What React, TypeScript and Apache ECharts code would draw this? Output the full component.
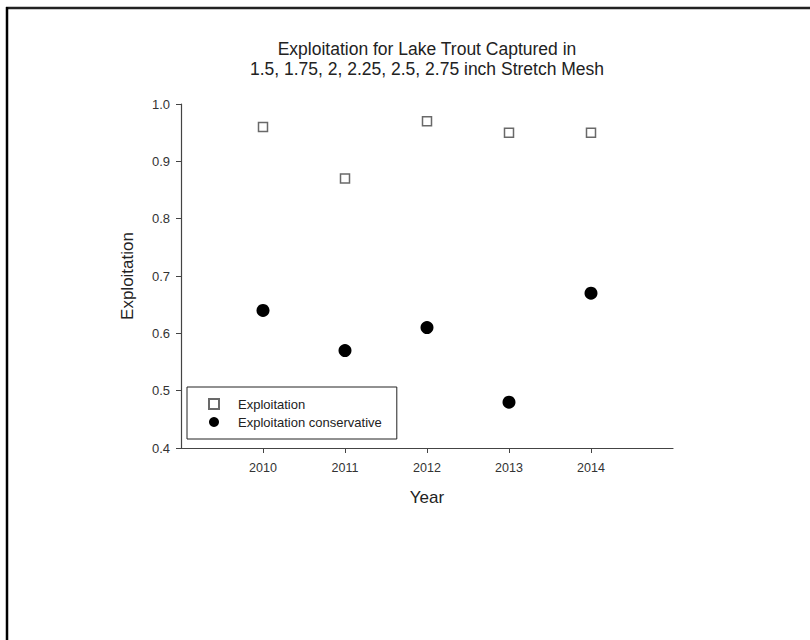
import React, { useEffect, useRef } from "react";
import * as echarts from "echarts";

const years = [2010, 2011, 2012, 2013, 2014];
const exploitation = [0.96, 0.87, 0.97, 0.95, 0.95];
const exploitationConservative = [0.64, 0.57, 0.61, 0.48, 0.67];
const yTicks = [0.4, 0.5, 0.6, 0.7, 0.8, 0.9, 1.0];
const titleLines = [
  "Exploitation for Lake Trout Captured in",
  "1.5, 1.75, 2, 2.25, 2.5, 2.75 inch Stretch Mesh",
];
const seriesNames = ["Exploitation", "Exploitation conservative"];

export default function App() {
  const ref = useRef<HTMLDivElement>(null);
  useEffect(() => {
    if (!ref.current) return;
    const chart = echarts.init(ref.current, null, { renderer: "svg" });
    const font = "'Liberation Sans', Arial, sans-serif";
    chart.setOption({
      animation: false,
      backgroundColor: "#fff",
      textStyle: { fontFamily: font },
      title: {
        text: titleLines.join("\n"),
        left: 427,
        top: 39,
        textAlign: "center",
        padding: 0,
        textStyle: {
          fontFamily: font,
          fontSize: 17.5,
          fontWeight: "normal",
          color: "#222",
          lineHeight: 20,
        },
      },
      grid: { left: 181, top: 104, width: 492, height: 344, containLabel: false },
      xAxis: {
        type: "value",
        min: 2009,
        max: 2015,
        interval: 1,
        name: "Year",
        nameLocation: "middle",
        nameGap: 41,
        nameTextStyle: { fontFamily: font, fontSize: 17, color: "#222" },
        splitLine: { show: false },
        axisLine: { show: true, onZero: false, lineStyle: { color: "#444", width: 1.2 } },
        axisTick: { show: true, length: 5, customValues: years, lineStyle: { color: "#444" } },
        axisLabel: {
          customValues: years,
          margin: 13,
          fontFamily: font,
          fontSize: 12.5,
          color: "#333",
          formatter: (v: number) => String(v),
        },
      },
      yAxis: {
        type: "value",
        min: 0.4,
        max: 1.0,
        interval: 0.1,
        name: "Exploitation",
        nameLocation: "middle",
        nameGap: 45,
        nameTextStyle: { fontFamily: font, fontSize: 17, color: "#222" },
        splitLine: { show: false },
        axisLine: { show: true, onZero: false, lineStyle: { color: "#444", width: 1.2 } },
        axisTick: { show: true, length: 5, customValues: yTicks, lineStyle: { color: "#444" } },
        axisLabel: {
          customValues: yTicks,
          margin: 11,
          fontFamily: font,
          fontSize: 13,
          color: "#333",
          formatter: (v: number) => v.toFixed(1),
        },
      },
      legend: {
        orient: "vertical",
        left: 187,
        top: 387,
        padding: [9, 15, 9, 21],
        itemGap: 2,
        itemWidth: 10,
        itemHeight: 10,
        borderColor: "#222",
        borderWidth: 1,
        textStyle: { fontFamily: font, fontSize: 13, color: "#222", lineHeight: 16, padding: [0, 0, 0, 14] },
        data: [
          { name: seriesNames[0], icon: "rect" },
          { name: seriesNames[1], icon: "circle" },
        ],
      },
      series: [
        {
          name: seriesNames[0],
          type: "scatter",
          symbol: "rect",
          symbolSize: 9,
          itemStyle: { color: "#fff", borderColor: "#444", borderWidth: 1.5 },
          data: years.map((y, i) => [y, exploitation[i]]),
        },
        {
          name: seriesNames[1],
          type: "scatter",
          symbol: "circle",
          symbolSize: 13,
          itemStyle: { color: "#000", opacity: 1 },
          data: years.map((y, i) => [y, exploitationConservative[i]]),
        },
      ],
      graphic: [
        { type: "line", shape: { x1: 6, y1: 8, x2: 810, y2: 8 }, style: { stroke: "#222", lineWidth: 2.5 } },
        { type: "line", shape: { x1: 7, y1: 7, x2: 7, y2: 640 }, style: { stroke: "#000", lineWidth: 2.5 } },
      ],
    });
    return () => chart.dispose();
  }, []);
  return (
    <div
      ref={ref}
      style={{ position: "absolute", left: 0, top: 0, width: 810, height: 640 }}
    />
  );
}
